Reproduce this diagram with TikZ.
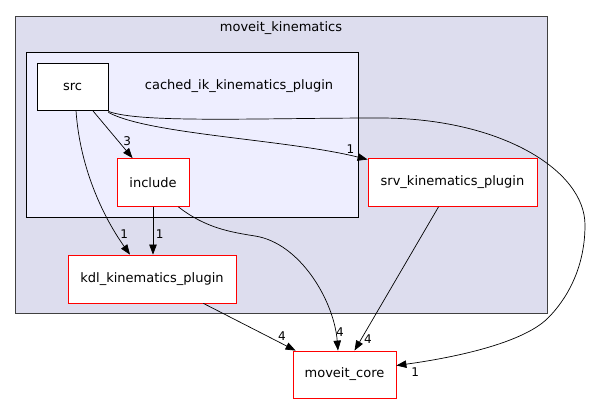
\documentclass[tikz,border=0pt]{standalone}
\usepackage{fontspec}
\setmainfont{DejaVu Sans}
\usetikzlibrary{arrows.meta}

\definecolor{outerfill}{HTML}{DDDDEE}
\definecolor{innerfill}{HTML}{EEEEFF}

\begin{document}
\begin{tikzpicture}[>={Triangle[length=10pt,width=7.5pt]},x=1pt,y=-1pt,
    font=\fontsize{13}{15}\selectfont,
    dir/.style={draw=red,fill=white,line width=0.8pt,minimum height=48pt,inner sep=0pt},
    lbl/.style={inner sep=0.5pt,font=\fontsize{12}{14}\selectfont}]
  \useasboundingbox (0,0) rectangle (590,404);
  % clusters
  \draw[fill=outerfill,draw=black!75,line width=0.8pt] (15,16) rectangle (547,313);
  \node (outerlbl) at (281,28) {moveit\_kinematics};
  \draw[fill=innerfill,line width=0.8pt] (26,52) rectangle (358,217);
  \node (innerlbl) at (239,86) {cached\_ik\_kinematics\_plugin};
  % directories
  \node[dir,draw=black,minimum width=71pt,minimum height=47pt] (src) at (72.5,86.5) {src};
  \node[dir,minimum width=72pt] (include) at (153,182.5) {include};
  \node[dir,minimum width=169pt] (srv) at (452.5,182.5) {srv\_kinematics\_plugin};
  \node[dir,minimum width=168pt] (kdl) at (152,279) {kdl\_kinematics\_plugin};
  \node[dir,minimum width=103pt,minimum height=47pt] (core) at (344.5,374.5) {moveit\_core};
  \path[->,line width=0.7pt]
        (src) edge node[lbl,pos=0.75,anchor=south west] {3} (include)
        (include.south) edge node[lbl,pos=0.58,anchor=west,xshift=2pt] {1} (include.south |- kdl.north)
        (kdl.south east) ++(-33,0) edge node[lbl,pos=0.8,anchor=south west] {4} ([xshift=3pt]core.north west)
        (srv.south) ++(-14,0) edge node[lbl,pos=0.92,anchor=west,xshift=2pt] {4} ([xshift=10pt]core.north);
  \draw[->,line width=0.7pt] ([yshift=-2pt]src.south east) .. controls +(40,22) and +(-80,-20) .. ([yshift=23pt]srv.west)
        node[lbl,pos=0.95,anchor=south east,yshift=2pt] {1};
  \draw[->,line width=0.7pt] ([xshift=3.5pt]src.south west -| src.south) .. controls +(4,60) and +(-25,-35) .. ([xshift=-22pt]kdl.north)
        node[lbl,pos=0.86,anchor=south west] {1};
  \draw[->,line width=0.7pt] ([xshift=-11pt]include.south east) .. controls +(27,21) and +(-25,-4) .. (255,236)
        .. controls +(45,7) and +(-4,-50) .. ([xshift=-6.5pt]core.north)
        node[lbl,pos=0.88,anchor=west] {4};
  \draw[->,line width=0.7pt] ([yshift=-1pt]src.south east) .. controls +(32,12) and +(-120,0) .. (380,118)
        .. controls +(120,0) and +(0,-55) .. (585,225)
        .. controls +(0,45) and +(17,-17) .. (548,318)
        .. controls +(-28,28) and +(44,-6) .. ([yshift=9pt]core.east)
        node[lbl,pos=1,anchor=north west,xshift=14pt,yshift=-1pt] {1};
\end{tikzpicture}
\end{document}
